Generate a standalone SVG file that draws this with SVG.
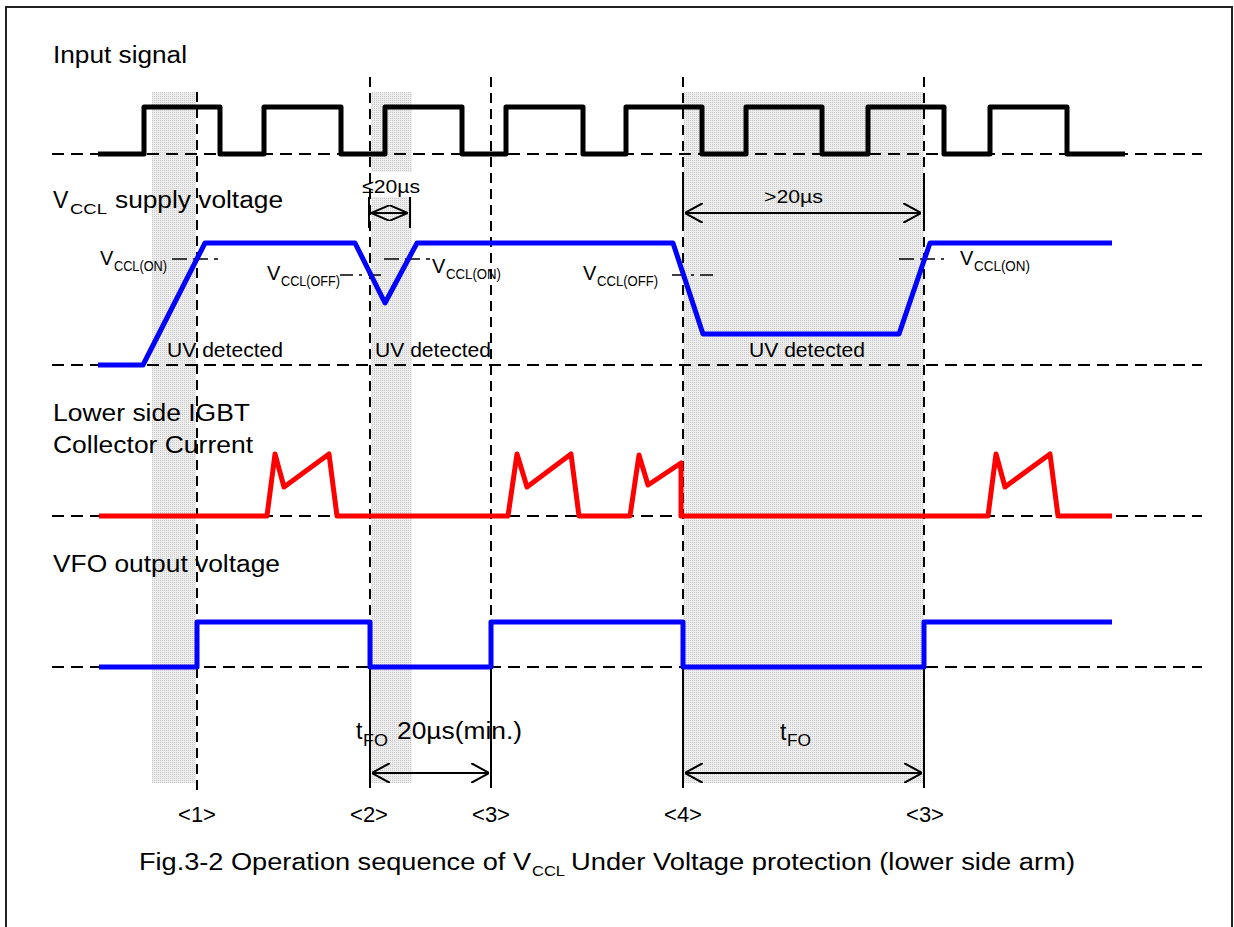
<svg xmlns="http://www.w3.org/2000/svg" width="1234" height="927" viewBox="0 0 1234 927">
<style>
text{font-family:"Liberation Sans",Arial,sans-serif;fill:#000}
.lbl{font-size:23px}
.v{font-size:20px}
.sub{font-size:14px}
.dim{font-size:19px}
.num{font-size:22px}
.base{stroke:#000;stroke-width:2;stroke-dasharray:12 7;fill:none}
.vd{stroke:#000;stroke-width:2;stroke-dasharray:10 6;fill:none}
.solid{stroke:#000;stroke-width:2;fill:none}
.wave{fill:none;stroke-width:5;stroke-linejoin:round;stroke-linecap:butt}
.th{stroke:#000;stroke-width:1.6;fill:none}
</style>
<defs>
<pattern id="dots" width="2" height="2" patternUnits="userSpaceOnUse">
<rect width="2" height="2" fill="#eeeeee"/>
<rect width="1" height="1" fill="#c9c9c9"/>
</pattern>
<marker id="arr" viewBox="0 0 18 20" refX="18" refY="10" markerWidth="18" markerHeight="20" markerUnits="userSpaceOnUse" orient="auto-start-reverse">
<path d="M0,0 L18,10 L0,20" fill="none" stroke="#000" stroke-width="2"/>
</marker>
<marker id="arrs" viewBox="0 0 19 16" refX="19" refY="8" markerWidth="19" markerHeight="16" markerUnits="userSpaceOnUse" orient="auto-start-reverse">
<path d="M0,0 L19,8 L0,16" fill="none" stroke="#000" stroke-width="2"/>
</marker>
</defs>
<rect width="1234" height="927" fill="#fff"/>
<g id="frame"><path d="M6,927 V7 H1232 V927" fill="none" stroke="#222" stroke-width="2"/></g>
<g id="shading">
<rect x="152" y="92" width="44" height="691" fill="url(#dots)"/>
<rect x="371" y="92" width="41" height="691" fill="url(#dots)"/>
<rect x="683" y="92" width="241" height="691" fill="url(#dots)"/>
<rect x="358" y="172" width="66" height="25" fill="#fff"/>
</g>
<g id="baselines">
<path class="base" d="M52,154 H1202"/>
<path class="base" d="M52,365 H1202"/>
<path class="base" d="M52,516 H1202"/>
<path class="base" d="M52,667 H1202"/>
</g>
<g id="markers">
<path class="vd" d="M197,92 V795"/>
<path class="vd" d="M370,77 V675"/>
<path class="vd" d="M491,77 V675"/>
<path class="vd" d="M683,77 V675"/>
<path class="vd" d="M924,77 V675"/>
<path class="solid" d="M370,675 V788 M491,675 V788 M683,675 V788 M924,675 V788"/>
<path class="solid" d="M369,197 V228 M410,197 V228 M683,172 V227 M924,175 V225"/>
</g>
<g id="thresholds">
<path class="th" stroke-dasharray="15 6" d="M172,259 H218"/>
<path class="th" stroke-dasharray="15 6" d="M384,259 H430"/>
<path class="th" stroke-dasharray="15 6" d="M899,259 H944"/>
<path class="th" stroke-dasharray="13 6 3 6" d="M340,275 H386"/>
<path class="th" stroke-dasharray="13 6 3 6" d="M672,275 H717"/>
</g>
<g id="input-signal">
<text class="lbl" x="53" y="63" textLength="134" lengthAdjust="spacingAndGlyphs">Input signal</text>
<path class="wave" stroke="#000" d="M98,154 H144 V107 H220 V154 H264 V107 H341 V154 H385 V107 H462 V154 H506 V107 H583 V154 H626 V107 H702 V154 H746 V107 H822 V154 H868 V107 H944 V154 H990 V107 H1067 V154 H1125"/>
</g>
<g id="vccl-supply">
<text class="lbl" x="53" y="208">V</text>
<text x="70" y="214" font-size="15" textLength="37" lengthAdjust="spacingAndGlyphs">CCL</text>
<text class="lbl" x="115" y="208" textLength="168" lengthAdjust="spacingAndGlyphs">supply voltage</text>
<path class="wave" stroke="#0000ff" d="M98,365 H143 L205,243 H355 L385,303 L417,243 H673 L703,334 H899 L930,243 H1112"/>
<text class="v" x="100" y="265">V</text><text class="sub" x="114" y="271" textLength="53" lengthAdjust="spacingAndGlyphs">CCL(ON)</text>
<text class="v" x="267" y="280">V</text><text class="sub" x="281" y="286" textLength="59" lengthAdjust="spacingAndGlyphs">CCL(OFF)</text>
<text class="v" x="432" y="273">V</text><text class="sub" x="446" y="279" textLength="55" lengthAdjust="spacingAndGlyphs">CCL(ON)</text>
<text class="v" x="583" y="280">V</text><text class="sub" x="597" y="286" textLength="61" lengthAdjust="spacingAndGlyphs">CCL(OFF)</text>
<text class="v" x="960" y="265">V</text><text class="sub" x="974" y="271" textLength="56" lengthAdjust="spacingAndGlyphs">CCL(ON)</text>
<text class="v" x="167" y="357" textLength="116" lengthAdjust="spacingAndGlyphs">UV detected</text>
<text class="v" x="375" y="357" textLength="116" lengthAdjust="spacingAndGlyphs">UV detected</text>
<text class="v" x="749" y="357" textLength="116" lengthAdjust="spacingAndGlyphs">UV detected</text>
<text class="dim" x="362" y="193" textLength="58" lengthAdjust="spacingAndGlyphs">≤20µs</text>
<text class="dim" x="764" y="203" textLength="59" lengthAdjust="spacingAndGlyphs">&gt;20µs</text>
</g>
<g id="collector-current">
<text class="lbl" x="53" y="421" textLength="197" lengthAdjust="spacingAndGlyphs">Lower side IGBT</text>
<text class="lbl" x="53" y="453" textLength="200" lengthAdjust="spacingAndGlyphs">Collector Current</text>
<path class="wave" stroke="#ff0000" d="M99,516 H267 L275,454 L284,487 L329,454 L337,516 H508 L517,454 L527,487 L571,454 L579,516 H630 L639,455 L648,485 L681,463 V516 H988 L996,454 L1005,487 L1050,454 L1058,516 H1112"/>
</g>
<g id="vfo-output">
<text class="lbl" x="53" y="572" textLength="227" lengthAdjust="spacingAndGlyphs">VFO output voltage</text>
<path class="wave" stroke="#0000ff" d="M99,667 H197 V622 H370 V667 H491 V622 H683 V667 H924 V622 H1112"/>
</g>
<g id="connectors">
<path class="solid" d="M371,213 H408" marker-start="url(#arrs)" marker-end="url(#arrs)"/>
<path class="solid" d="M685,213 H921" marker-start="url(#arr)" marker-end="url(#arr)"/>
<path class="solid" d="M372,773 H489" marker-start="url(#arr)" marker-end="url(#arr)"/>
<path class="solid" d="M685,773 H922" marker-start="url(#arr)" marker-end="url(#arr)"/>
</g>
<g id="timing-labels">
<text class="lbl" x="356" y="739">t</text>
<text x="363" y="746" font-size="16" textLength="25" lengthAdjust="spacingAndGlyphs">FO</text>
<text class="lbl" x="397" y="739" textLength="125" lengthAdjust="spacingAndGlyphs">20µs(min.)</text>
<text class="lbl" x="780" y="740">t</text>
<text x="787" y="746" font-size="16" textLength="24" lengthAdjust="spacingAndGlyphs">FO</text>
<text class="num" x="197" y="822" text-anchor="middle">&lt;1&gt;</text>
<text class="num" x="369" y="822" text-anchor="middle">&lt;2&gt;</text>
<text class="num" x="491" y="822" text-anchor="middle">&lt;3&gt;</text>
<text class="num" x="683" y="822" text-anchor="middle">&lt;4&gt;</text>
<text class="num" x="925" y="822" text-anchor="middle">&lt;3&gt;</text>
</g>
<g id="caption">
<text class="lbl" x="139" y="870" textLength="392" lengthAdjust="spacingAndGlyphs">Fig.3-2 Operation sequence of V</text>
<text x="532" y="876" font-size="15" textLength="33" lengthAdjust="spacingAndGlyphs">CCL</text>
<text class="lbl" x="571" y="870" textLength="504" lengthAdjust="spacingAndGlyphs">Under Voltage protection (lower side arm)</text>
</g>
</svg>
